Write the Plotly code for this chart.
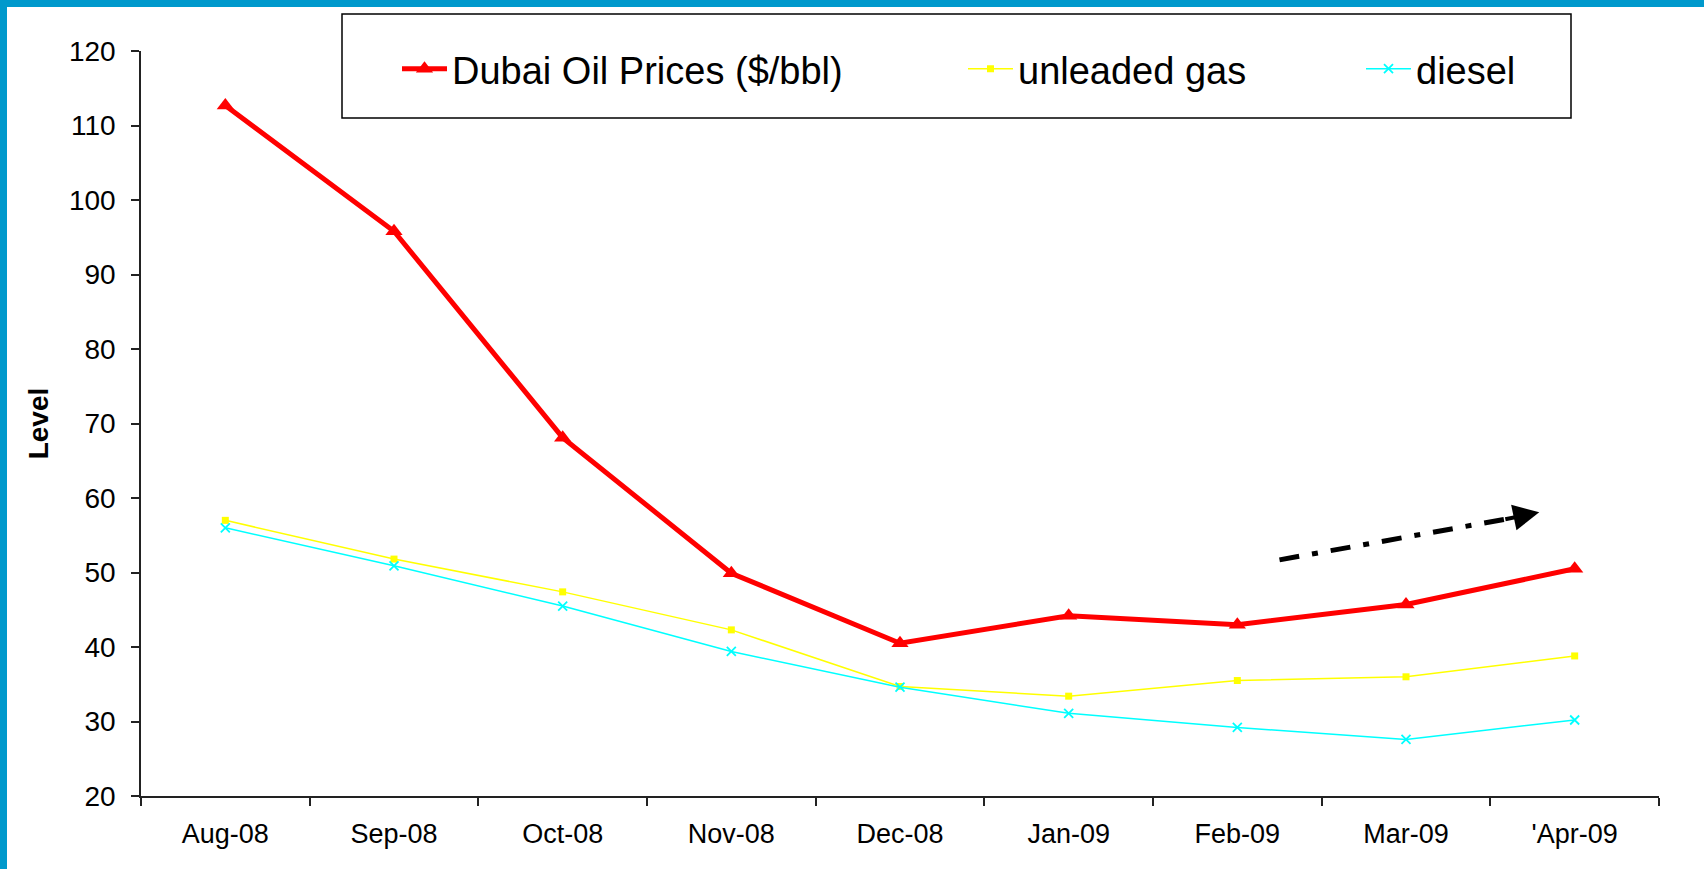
import plotly.graph_objects as go

months = ["Aug-08", "Sep-08", "Oct-08", "Nov-08", "Dec-08", "Jan-09", "Feb-09", "Mar-09", "'Apr-09"]
dubai = [112.7, 95.8, 68.1, 49.9, 40.5, 44.2, 43.0, 45.7, 50.5]
unleaded = [57.0, 51.8, 47.4, 42.3, 34.7, 33.4, 35.5, 36.0, 38.8]
diesel = [56.0, 50.9, 45.5, 39.4, 34.6, 31.1, 29.2, 27.6, 30.2]
trend_x = [6.25, 7.6]
trend_y = [51.7, 57.2]
arrow_tip = (7.79, 58.1)

W, H = 1704, 869
L, R, T, B = 141, 45, 51, 73
PW, PH = W - L - R, H - T - B
FONT = "Liberation Sans, Arial, sans-serif"

def px2paper_x(px):
    return (px - L) / PW

def px2paper_y(py):
    return (H - B - py) / PH

fig = go.Figure()
fig.add_trace(go.Scatter(x=months, y=dubai, name="Dubai Oil Prices ($/bbl)", mode="lines+markers",
                         line=dict(color="#FF0000", width=5),
                         marker=dict(symbol="triangle-up", size=15, color="#FF0000"),
                         legend="legend"))
fig.add_trace(go.Scatter(x=months, y=unleaded, name="unleaded gas", mode="lines+markers",
                         line=dict(color="#FFFF00", width=1.5),
                         marker=dict(symbol="square", size=7, color="#FFFF00"),
                         legend="legend2"))
fig.add_trace(go.Scatter(x=months, y=diesel, name="diesel", mode="lines+markers",
                         line=dict(color="#00FFFF", width=1.5),
                         marker=dict(symbol="x-thin", size=9, color="#00FFFF",
                                     line=dict(color="#00FFFF", width=1.8)),
                         legend="legend3"))

legend_common = dict(orientation="h", font=dict(family=FONT, size=38, color="black"),
                     bgcolor="rgba(0,0,0,0)", borderwidth=0, itemwidth=45,
                     xanchor="left", yanchor="middle", tracegroupgap=0)
ly = px2paper_y(69)
fig.update_layout(
    legend=dict(x=px2paper_x(397), y=ly, **legend_common),
    legend2=dict(x=px2paper_x(963), y=ly, **legend_common),
    legend3=dict(x=px2paper_x(1361), y=ly, **legend_common),
)

shapes = [
    # legend box
    dict(type="rect", xref="paper", yref="paper", x0=px2paper_x(342), x1=px2paper_x(1571),
         y0=px2paper_y(118), y1=px2paper_y(14), line=dict(color="black", width=1.5),
         fillcolor="rgba(0,0,0,0)", layer="below"),
    # blue frame (top and left)
    dict(type="rect", xref="paper", yref="paper", x0=px2paper_x(0), x1=px2paper_x(W),
         y0=px2paper_y(7), y1=px2paper_y(0), line=dict(width=0), fillcolor="#0099CC"),
    dict(type="rect", xref="paper", yref="paper", x0=px2paper_x(0), x1=px2paper_x(7),
         y0=px2paper_y(H), y1=px2paper_y(0), line=dict(width=0), fillcolor="#0099CC"),
    # trend line
    dict(type="line", xref="x", yref="y", x0=trend_x[0], x1=trend_x[1], y0=trend_y[0], y1=trend_y[1],
         line=dict(color="black", width=5, dash="20px,13px,6px,13px")),
]
fig.update_layout(shapes=shapes)

fig.add_annotation(x=arrow_tip[0], y=arrow_tip[1], ax=trend_x[1] - 0.02, ay=trend_y[1] - 0.1,
                   xref="x", yref="y", axref="x", ayref="y", text="", showarrow=True,
                   arrowhead=2, arrowsize=1.3, arrowwidth=4, arrowcolor="black", standoff=0)

fig.update_layout(
    width=W, height=H,
    margin=dict(l=L, r=R, t=T, b=B, pad=0),
    paper_bgcolor="white", plot_bgcolor="white",
    font=dict(family=FONT, size=28, color="black"),
    showlegend=True,
    xaxis=dict(type="category", showgrid=False, showline=True, linecolor="#222", linewidth=1.5,
               ticks="outside", ticklen=8, tickwidth=1.5, tickcolor="#222", tickson="boundaries",
               tickfont=dict(family=FONT, size=27), range=[-0.5, 8.5], ticklabelstandoff=13,
               zeroline=False),
    yaxis=dict(range=[20, 120], dtick=10, showgrid=False, showline=True, linecolor="#222",
               linewidth=1.5, ticks="outside", ticklen=8, tickwidth=1.5, tickcolor="#222",
               tickfont=dict(family=FONT, size=28), zeroline=False, ticklabelstandoff=10,
               title=dict(text="<b>Level</b>", font=dict(family=FONT, size=28), standoff=12)),
)

fig.write_html("out.html", config={"displayModeBar": False},
               post_script="document.body.style.margin='0';")
